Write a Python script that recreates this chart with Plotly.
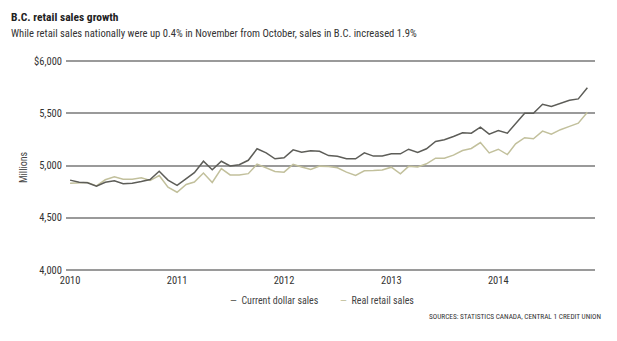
import pandas as pd
import plotly.graph_objects as go

# Monthly B.C. retail sales, $ millions, Jan 2010 - Nov 2014
months = pd.date_range("2010-01-01", periods=59, freq="MS")

current_dollar_sales = [
    4860, 4840, 4835, 4802, 4840, 4853, 4825, 4831, 4847, 4866, 4945, 4860,
    4810, 4875, 4932, 5041, 4960, 5041, 4996, 5008, 5050, 5160, 5121, 5064,
    5074, 5150, 5126, 5142, 5136, 5095, 5088, 5064, 5064, 5121, 5090, 5090,
    5112, 5112, 5156, 5124, 5160, 5230, 5246, 5278, 5313, 5310, 5367, 5300,
    5335, 5310, 5405, 5500, 5500, 5587, 5565, 5597, 5625, 5638, 5744,
]

real_retail_sales = [
    4831, 4831, 4838, 4805, 4863, 4891, 4869, 4869, 4882, 4856, 4904, 4792,
    4744, 4818, 4842, 4928, 4837, 4970, 4910, 4908, 4922, 5013, 4980, 4943,
    4936, 5012, 4986, 4961, 4994, 4990, 4978, 4936, 4904, 4950, 4952, 4957,
    4984, 4920, 4992, 4986, 5016, 5070, 5070, 5099, 5144, 5163, 5220, 5121,
    5156, 5105, 5207, 5266, 5256, 5329, 5300, 5343, 5375, 5405, 5510,
]

y_tick_values = [4000, 4500, 5000, 5500, 6000]
y_tick_labels = ["4,000", "4,500", "5,000", "5,500", "$6,000"]
x_tick_values = ["2010-01-01", "2011-01-01", "2012-01-01", "2013-01-01", "2014-01-01"]
x_tick_labels = ["2010", "2011", "2012", "2013", "2014"]

series_names = ["Current dollar sales", "Real retail sales"]
dark = "#5d5d58"
khaki = "#c2c09c"

FONT = "Roboto Condensed, Roboto, sans-serif"

fig = go.Figure()
fig.add_trace(go.Scatter(x=months, y=real_retail_sales, mode="lines",
                         name=series_names[1], line=dict(color=khaki, width=1.5)))
fig.add_trace(go.Scatter(x=months, y=current_dollar_sales, mode="lines",
                         name=series_names[0], line=dict(color=dark, width=1.5)))

fig.update_layout(
    width=617, height=341,
    margin=dict(l=66, r=22, t=59, b=69),
    paper_bgcolor="white", plot_bgcolor="white",
    showlegend=False,
    font=dict(family=FONT, size=10, color="#444"),
    xaxis=dict(
        range=["2009-12-18", "2014-11-27"],
        tickvals=x_tick_values, ticktext=x_tick_labels,
        showgrid=False, zeroline=False, showline=False, ticks="",
        tickfont=dict(size=10.5, color="#333"),
        ticklabelstandoff=0,
    ),
    yaxis=dict(
        range=[3980, 6020],
        tickvals=y_tick_values, ticktext=y_tick_labels,
        showgrid=True, gridcolor="#9a9a9a", gridwidth=1.6,
        zeroline=False, showline=False, ticks="",
        tickfont=dict(size=10.5, color="#333"),
        ticklabelstandoff=3,
    ),
)

annotations = [
    dict(text="<b>B.C. retail sales growth</b>", x=-0.1078, y=1.197,
         xanchor="left", yanchor="middle", font=dict(size=11.5, color="#222")),
    dict(text="While retail sales nationally were up 0.4% in November from October, "
              "sales in B.C. increased 1.9%",
         x=-0.1078, y=1.122, xanchor="left", yanchor="middle",
         font=dict(size=10.6, color="#333")),
    dict(text="Millions", x=-0.0794, y=0.493, textangle=-90,
         xanchor="center", yanchor="middle", font=dict(size=10, color="#444")),
    dict(text=f'<span style="color:{dark}">—</span>  {series_names[0]}',
         x=0.306, y=-0.136, xanchor="left", yanchor="middle",
         font=dict(size=10, color="#444")),
    dict(text=f'<span style="color:{khaki}">—</span>  {series_names[1]}',
         x=0.514, y=-0.136, xanchor="left", yanchor="middle",
         font=dict(size=10, color="#444")),
    dict(text="SOURCES: STATISTICS CANADA, CENTRAL 1 CREDIT UNION",
         x=1.015, y=-0.211, xanchor="right", yanchor="middle",
         font=dict(size=7.3, color="#333")),
]
for a in annotations:
    a.update(xref="paper", yref="paper", showarrow=False)
fig.update_layout(annotations=annotations)

fig.write_html("out.html")
